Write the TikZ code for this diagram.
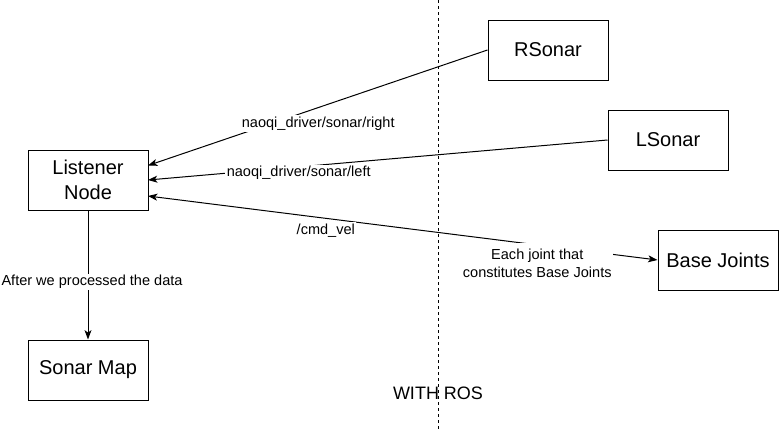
\documentclass[tikz,border=0pt]{standalone}
\usepackage{fontspec}
\setmainfont{Liberation Sans}
\usetikzlibrary{arrows.meta}
\begin{document}
\begin{tikzpicture}[x=0.75pt,y=-0.75pt,
  box/.style={draw,line width=0.75pt,minimum width=90pt,minimum height=45pt,inner sep=0pt,align=center,font=\fontsize{15}{18.75}\selectfont},
  conn/.style={line width=0.75pt,-{Stealth[length=7pt,width=5.2pt,inset=1.8pt]}},
  lbl/.style={font=\fontsize{10.9}{13.5}\selectfont,fill=white,inner sep=1pt,align=center}]
\useasboundingbox (0,0) rectangle (779,432);
\draw[line width=0.75pt,dash pattern=on 2.25pt off 2.25pt] (438,0) -- (438,432);
\node[font=\fontsize{13.5}{16}\selectfont] (ros) at (438,393) {WITH ROS};
\node[box] (listener) at (88,180) {Listener\\Node};
\node[box] (map) at (88,370) {Sonar Map};
\node[box] (rsonar) at (548,50) {RSonar};
\node[box] (lsonar) at (668,140) {LSonar};
\node[box] (base) at (718,260) {Base Joints};
\coordinate (lr) at (148,165.5);
\coordinate (ll) at (148,180);
\coordinate (lc) at (148,196);
\draw[conn] (rsonar.west) -- node[lbl,pos=0.4985,yshift=-12pt] {naoqi\_driver/sonar/right} (lr);
\draw[conn] (lsonar.west) -- node[lbl,pos=0.672,yshift=-4.5pt] {naoqi\_driver/sonar/left} (ll);
\draw[line width=0.75pt,{Stealth[length=7pt,width=5.2pt,inset=1.8pt]}-{Stealth[length=7pt,width=5.2pt,inset=1.8pt]}] (lc) -- (base.west)
  node[lbl,pos=0.349,yshift=-9pt] {/cmd\_vel}
  node[lbl,inner ysep=4pt,pos=0.764,yshift=-13.5pt] {Each joint that\\constitutes Base Joints};
\draw[conn] (listener.south) -- node[lbl,pos=0.554,xshift=3pt] {After we processed the data} (map.north);
\end{tikzpicture}
\end{document}
